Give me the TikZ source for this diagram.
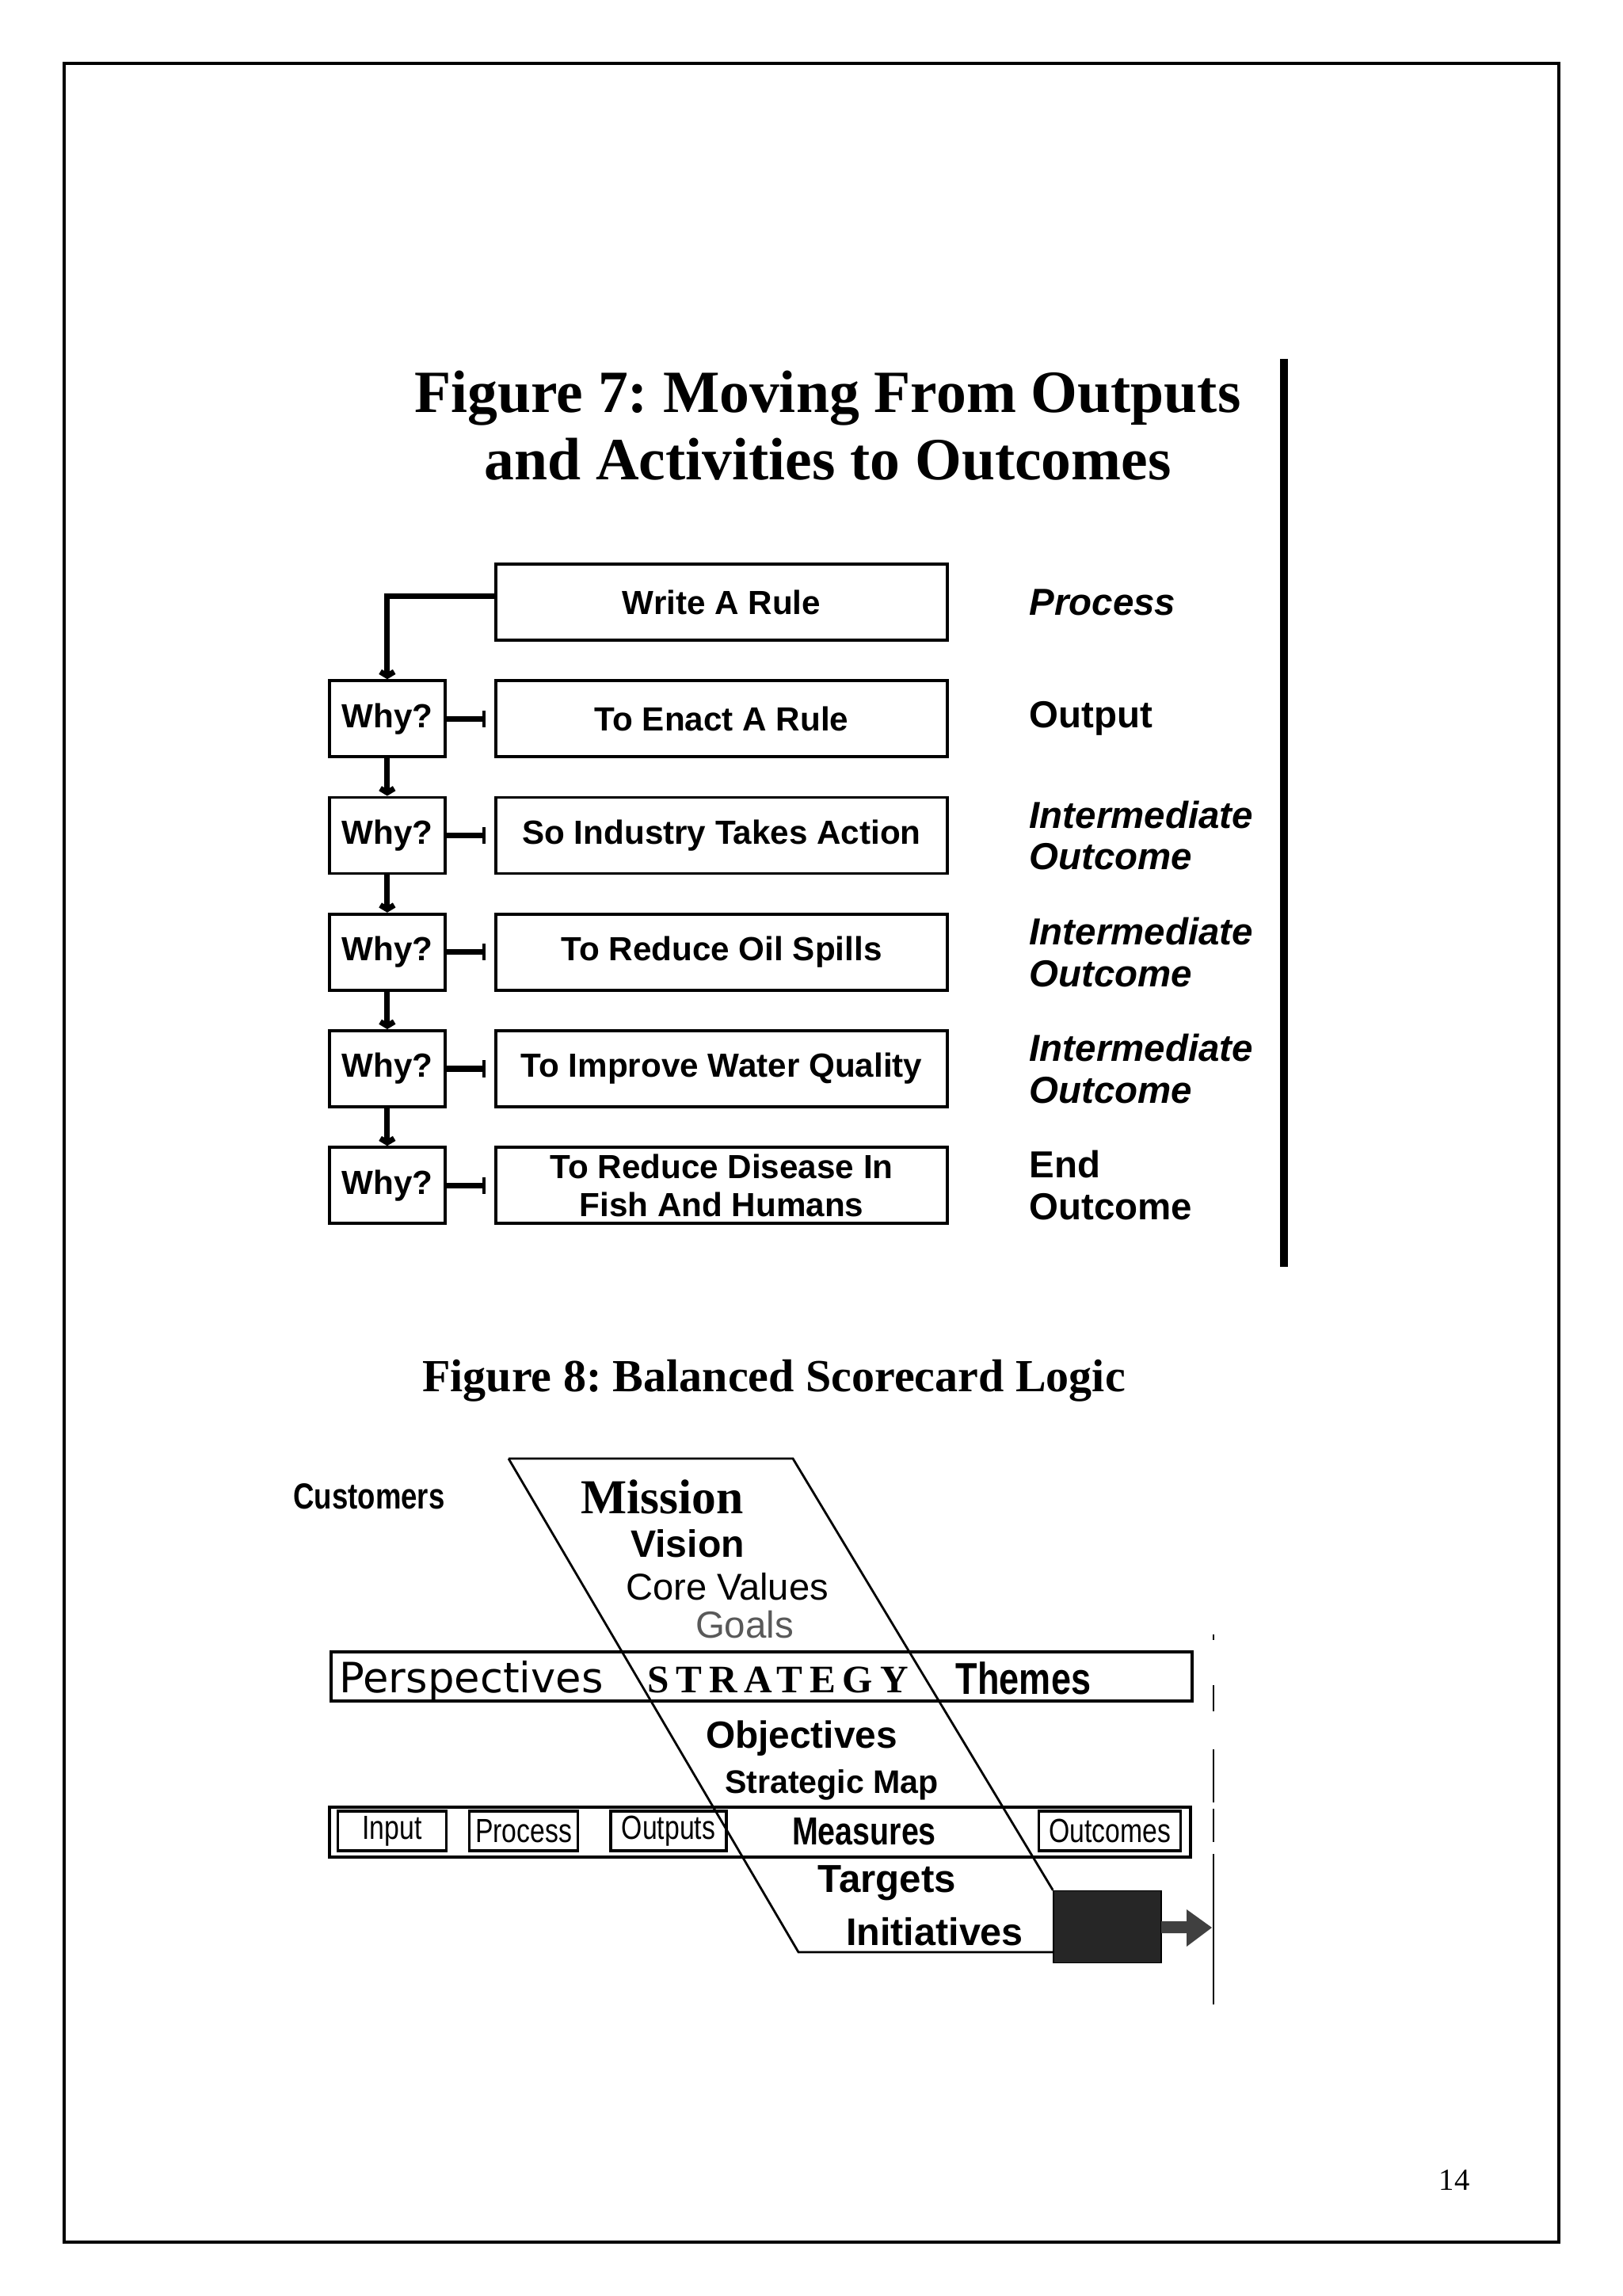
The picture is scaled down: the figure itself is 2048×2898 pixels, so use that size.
\documentclass[tikz,border=0pt]{standalone}
\usepackage{fontspec}
\setmainfont{Liberation Serif}
\setsansfont{Liberation Sans}
\newfontfamily\condsans[FakeStretch=0.8]{Liberation Sans}
\newfontfamily\spacedserif[LetterSpace=18]{Liberation Serif}
\newfontfamily\widesans{DejaVu Sans}
\usetikzlibrary{positioning, arrows.meta}
\tikzset{
  stepbox/.style={draw, line width=1.1pt, minimum width=5.7cm, minimum height=9.6mm,
                  inner ysep=1pt, align=center, font=\sffamily\bfseries\fontsize{12}{13.6}\selectfont},
  whybox/.style={draw, line width=1.1pt, minimum width=1.46cm, minimum height=9.6mm,
                 font=\sffamily\bfseries\fontsize{12}{14}\selectfont},
  lvl/.style={anchor=west, align=left, font=\sffamily\bfseries\fontsize{13.5}{15}\selectfont},
  lvlit/.style={lvl, font=\sffamily\bfseries\itshape\fontsize{13.5}{15}\selectfont},
  link/.style={line width=2pt, -{Bar[width=6pt,line width=1.2pt]}, shorten >=3pt},
  whylink/.style={line width=2pt, -{Straight Barb[length=1.5pt,width=5pt]}},
  band/.style={draw, line width=1.1pt},
  mbox/.style={draw, line width=0.9pt, minimum height=5mm, inner sep=0pt,
               font=\condsans\fontsize{12}{14}\selectfont},
  word/.style={inner sep=0pt}
}
\begin{document}
\frenchspacing
\begin{tikzpicture}[x=0.01cm, y=-0.01cm, node distance=4.73mm]
  \useasboundingbox (0,0) rectangle (2048,2898);
  % page frame
  \draw[line width=1.2pt] (81,80) rectangle (1968,2830);

  % Figure 7
  \node[font=\bfseries\fontsize{21.5}{24.2}\selectfont, align=center, anchor=base] (title7) at (1045,606)
    {Figure 7: Moving From Outputs\\and Activities to Outcomes};
  \draw[line width=2.8pt] (1621,453) -- (1621,1599);

  \node[stepbox] (rule) at (911,760) {Write A Rule};
  \node[stepbox, below=of rule] (enact) {To Enact A Rule};
  \node[stepbox, below=of enact] (industry) {So Industry Takes Action};
  \node[stepbox, below=of industry] (spills) {To Reduce Oil Spills};
  \node[stepbox, below=of spills] (water) {To Improve Water Quality};
  \node[stepbox, below=of water] (disease) {To Reduce Disease In\\Fish And Humans};

  \node[whybox, left=6mm of enact] (why1) {Why?};
  \node[whybox, left=6mm of industry] (why2) {Why?};
  \node[whybox, left=6mm of spills] (why3) {Why?};
  \node[whybox, left=6mm of water] (why4) {Why?};
  \node[whybox, left=6mm of disease] (why5) {Why?};

  \node[lvlit, right=0.89cm of rule] (lproc) {Process};
  \node[lvl, right=0.89cm of enact] (lout) {Output};
  \node[lvlit, right=0.89cm of industry] (lmid1) {Intermediate\\Outcome};
  \node[lvlit, right=0.89cm of spills] (lmid2) {Intermediate\\Outcome};
  \node[lvlit, right=0.89cm of water] (lmid3) {Intermediate\\Outcome};
  \node[lvl, right=0.89cm of disease] (lend) {End\\Outcome};

  \draw[whylink] ([yshift=2pt]rule.west) -| (why1.north);
  \foreach \a/\b in {why1/why2, why2/why3, why3/why4, why4/why5}
    \draw[whylink] (\a) -- (\b);
  \foreach \a/\b in {why1/enact, why2/industry, why3/spills, why4/water, why5/disease}
    \draw[link] (\a) -- (\b);

  % Figure 8
  \node[font=\bfseries\fontsize{16.5}{18}\selectfont, anchor=base] (title8) at (977,1756)
    {Figure 8: Balanced Scorecard Logic};

  \draw[band] (418,2085) rectangle (1505,2147);
  \draw[band] (416,2281) rectangle (1503,2344);
  \node[mbox, minimum width=1.37cm] (input) at (495,2311) {Input};
  \node[mbox, minimum width=1.37cm] (process) at (661,2311) {Process};
  \node[mbox, minimum width=1.46cm] (outputs) at (844,2311) {Outputs};
  \node[mbox, minimum width=1.79cm] (outcomes) at (1401,2311) {Outcomes};

  \node[draw, fill=black!85, minimum width=1.36cm, minimum height=9.1mm, inner sep=0pt] (initbox) at (1398,2432) {};
  \coordinate (pa) at (642,1841);
  \coordinate (pb) at (1001,1841);
  \coordinate (pc) at (1008,2464);
  \draw[line width=0.8pt] (pa) -- (pb) -- (initbox.north west);
  \draw[line width=0.8pt] (pa) -- (pc) -- (pc -| initbox.west);
  \fill[black!75] (1466,2425) -- (1498,2425) -- (1498,2410) -- (1530,2433)
    -- (1498,2457) -- (1498,2440) -- (1466,2440) -- cycle;
  \draw[line width=0.6pt] (1532,2340) -- (1532,2530);
  \draw[line width=0.6pt] (1532,2063) -- (1532,2070) (1532,2127) -- (1532,2160)
    (1532,2208) -- (1532,2275) (1532,2283) -- (1532,2325);

  \node[word, font=\condsans\bfseries\fontsize{13}{15}\selectfont] (customers) at (466,1889) {Customers};
  \node[word, font=\bfseries\fontsize{17.5}{20}\selectfont] (mission) at (836,1889) {Mission};
  \node[word, font=\sffamily\bfseries\fontsize{13.7}{15}\selectfont] (vision) at (868,1948) {Vision};
  \node[word, font=\sffamily\fontsize{13.4}{15}\selectfont] (values) at (918,2003) {Core Values};
  \node[word, font=\sffamily\fontsize{13.5}{15}\selectfont, text=black!65] (goals) at (940,2051) {Goals};
  \node[word, font=\widesans\fontsize{15}{17}\selectfont] (persp) at (595,2122) {Perspectives};
  \node[word, font=\spacedserif\bfseries\fontsize{14}{16}\selectfont] (strategy) at (982,2120) {STRATEGY};
  \node[word, font=\condsans\bfseries\fontsize{16}{18}\selectfont] (themes) at (1292,2118) {Themes};
  \node[word, font=\sffamily\bfseries\fontsize{13.6}{15}\selectfont] (objectives) at (1012,2194) {Objectives};
  \node[word, font=\sffamily\bfseries\fontsize{11.7}{13}\selectfont] (stratmap) at (1050,2253) {Strategic Map};
  \node[word, font=\condsans\bfseries\fontsize{14}{16}\selectfont] (measures) at (1091,2312) {Measures};
  \node[word, font=\sffamily\bfseries\fontsize{14}{16}\selectfont] (targets) at (1120,2377) {Targets};
  \node[word, font=\sffamily\bfseries\fontsize{13.8}{15}\selectfont] (initiatives) at (1180,2438) {Initiatives};

  \node[font=\fontsize{11}{13}\selectfont] (pagenum) at (1836,2752) {14};
\end{tikzpicture}
\end{document}
